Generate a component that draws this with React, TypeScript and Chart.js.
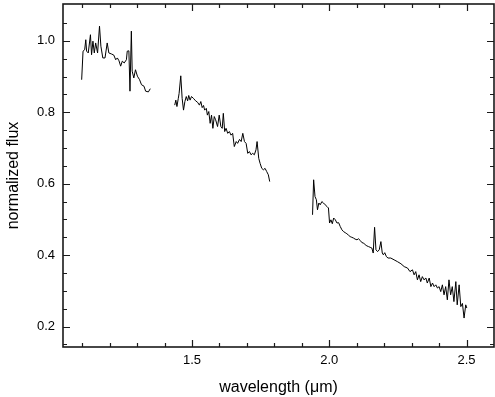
import { useEffect, useRef } from "react";
import { Chart, registerables } from "chart.js";

Chart.register(...registerables);

// J band segment
const jWave = [1.098, 1.103, 1.109, 1.113, 1.116, 1.122, 1.130, 1.134, 1.139, 1.144, 1.149, 1.156, 1.163, 1.168, 1.175, 1.183, 1.191, 1.197, 1.207, 1.215, 1.222, 1.228, 1.234, 1.240, 1.246, 1.253, 1.261, 1.264, 1.270, 1.274, 1.279, 1.282, 1.288, 1.294, 1.301, 1.309, 1.316, 1.325, 1.331, 1.341, 1.348];
const jFlux = [0.891, 0.971, 0.975, 1.003, 0.971, 0.966, 1.017, 0.961, 0.999, 0.966, 0.994, 0.966, 1.041, 0.985, 0.952, 0.952, 0.994, 0.966, 0.963, 0.960, 0.947, 0.952, 0.944, 0.929, 0.943, 0.938, 0.947, 0.971, 0.972, 0.859, 1.027, 0.915, 0.896, 0.919, 0.901, 0.891, 0.877, 0.873, 0.859, 0.857, 0.866];

// H band segment
const hWave = [1.437, 1.441, 1.445, 1.450, 1.453, 1.459, 1.464, 1.469, 1.474, 1.479, 1.484, 1.488, 1.493, 1.498, 1.505, 1.513, 1.520, 1.527, 1.532, 1.537, 1.542, 1.546, 1.552, 1.556, 1.561, 1.566, 1.571, 1.576, 1.581, 1.586, 1.593, 1.599, 1.605, 1.610, 1.614, 1.619, 1.624, 1.630, 1.636, 1.642, 1.648, 1.654, 1.661, 1.666, 1.673, 1.679, 1.685, 1.691, 1.697, 1.703, 1.709, 1.715, 1.721, 1.727, 1.733, 1.737, 1.743, 1.748, 1.754, 1.760, 1.766, 1.772, 1.778, 1.783];
const hFlux = [0.820, 0.834, 0.816, 0.839, 0.853, 0.902, 0.839, 0.806, 0.830, 0.844, 0.832, 0.847, 0.834, 0.844, 0.839, 0.832, 0.828, 0.820, 0.830, 0.813, 0.819, 0.806, 0.811, 0.792, 0.802, 0.769, 0.792, 0.755, 0.788, 0.779, 0.760, 0.792, 0.760, 0.755, 0.797, 0.746, 0.755, 0.741, 0.746, 0.736, 0.741, 0.704, 0.718, 0.713, 0.724, 0.718, 0.741, 0.718, 0.713, 0.685, 0.690, 0.681, 0.685, 0.681, 0.695, 0.718, 0.671, 0.657, 0.643, 0.639, 0.643, 0.634, 0.625, 0.606];

// K band segment
const kWave = [1.939, 1.943, 1.948, 1.953, 1.957, 1.962, 1.967, 1.973, 1.979, 1.985, 1.992, 1.997, 2.001, 2.006, 2.011, 2.016, 2.022, 2.028, 2.034, 2.040, 2.046, 2.052, 2.058, 2.064, 2.070, 2.076, 2.082, 2.088, 2.094, 2.101, 2.106, 2.113, 2.119, 2.125, 2.131, 2.137, 2.143, 2.149, 2.155, 2.160, 2.165, 2.170, 2.176, 2.182, 2.188, 2.193, 2.197, 2.202, 2.208, 2.214, 2.224, 2.236, 2.248, 2.261, 2.273, 2.285, 2.294, 2.303, 2.309, 2.315, 2.321, 2.327, 2.333, 2.339, 2.345, 2.352, 2.357, 2.364, 2.370, 2.376, 2.382, 2.388, 2.394, 2.400, 2.406, 2.412, 2.418, 2.424, 2.430, 2.436, 2.442, 2.448, 2.454, 2.461, 2.466, 2.473, 2.479, 2.485, 2.491, 2.497, 2.501];
const kFlux = [0.513, 0.611, 0.564, 0.555, 0.527, 0.546, 0.541, 0.550, 0.546, 0.541, 0.536, 0.532, 0.490, 0.499, 0.488, 0.504, 0.499, 0.490, 0.491, 0.480, 0.471, 0.466, 0.463, 0.460, 0.456, 0.452, 0.450, 0.448, 0.445, 0.443, 0.446, 0.441, 0.435, 0.434, 0.429, 0.426, 0.424, 0.422, 0.420, 0.406, 0.478, 0.415, 0.410, 0.415, 0.438, 0.406, 0.401, 0.407, 0.396, 0.392, 0.392, 0.387, 0.382, 0.376, 0.368, 0.364, 0.354, 0.359, 0.345, 0.354, 0.331, 0.345, 0.326, 0.340, 0.331, 0.336, 0.322, 0.336, 0.312, 0.322, 0.312, 0.317, 0.308, 0.312, 0.298, 0.317, 0.289, 0.312, 0.275, 0.331, 0.289, 0.312, 0.270, 0.326, 0.261, 0.317, 0.256, 0.265, 0.224, 0.261, 0.252];

// Axis ticks
const xMajorTicks = [1.5, 2.0, 2.5];
const xMinorTicks = [1.1, 1.2, 1.3, 1.4, 1.6, 1.7, 1.8, 1.9, 2.1, 2.2, 2.3, 2.4];
const yMajorTicks = [0.2, 0.4, 0.6, 0.8, 1.0];
const yMinorTicks = [0.15, 0.25, 0.3, 0.35, 0.45, 0.5, 0.55, 0.65, 0.7, 0.75, 0.85, 0.9, 0.95, 1.05];

const X_MIN = 1.03;
const X_MAX = 2.6;
const Y_MIN = 0.143;
const Y_MAX = 1.103;

const FONT = "'Liberation Sans', Arial, Helvetica, sans-serif";

const toPoints = (xs: number[], ys: number[]) => xs.map((x, i) => ({ x, y: ys[i] }));

const framePlugin = {
  id: "frameTicks",
  afterDraw(chart: any) {
    const { ctx, chartArea: a, scales } = chart;
    const xs = scales.x;
    const ys = scales.y;
    ctx.save();
    ctx.strokeStyle = "#1a1a1a";
    ctx.lineWidth = 1.2;
    const drawX = (vals: number[], len: number) => {
      vals.forEach((v) => {
        const px = Math.round(xs.getPixelForValue(v)) + 0.5;
        ctx.beginPath();
        ctx.moveTo(px, a.bottom);
        ctx.lineTo(px, a.bottom - len);
        ctx.moveTo(px, a.top);
        ctx.lineTo(px, a.top + len);
        ctx.stroke();
      });
    };
    const drawY = (vals: number[], len: number) => {
      vals.forEach((v) => {
        const py = Math.round(ys.getPixelForValue(v)) + 0.5;
        ctx.beginPath();
        ctx.moveTo(a.left, py);
        ctx.lineTo(a.left + len, py);
        ctx.moveTo(a.right, py);
        ctx.lineTo(a.right - len, py);
        ctx.stroke();
      });
    };
    drawX(xMajorTicks, 7);
    drawX(xMinorTicks, 4);
    drawY(yMajorTicks, 7);
    drawY(yMinorTicks, 4);
    ctx.lineWidth = 1.6;
    ctx.strokeRect(a.left, a.top, a.right - a.left, a.bottom - a.top);
    ctx.restore();
  },
};

export default function App() {
  const ref = useRef<HTMLCanvasElement | null>(null);

  useEffect(() => {
    if (!ref.current) return;
    const lineStyle = {
      borderColor: "#000",
      borderWidth: 1,
      pointRadius: 0,
      fill: false,
      tension: 0,
    };
    const chart = new Chart(ref.current, {
      type: "line",
      data: {
        datasets: [
          { label: "J", data: toPoints(jWave, jFlux), ...lineStyle },
          { label: "H", data: toPoints(hWave, hFlux), ...lineStyle },
          { label: "K", data: toPoints(kWave, kFlux), ...lineStyle },
        ],
      },
      options: {
        responsive: false,
        animation: false,
        layout: { padding: { left: 0, top: 4, right: 1, bottom: 0 } },
        plugins: { legend: { display: false }, tooltip: { enabled: false } },
        scales: {
          x: {
            type: "linear",
            min: X_MIN,
            max: X_MAX,
            grid: { display: false, drawTicks: false },
            border: { display: false },
            afterBuildTicks: (s: any) => {
              s.ticks = xMajorTicks.map((v) => ({ value: v }));
            },
            afterFit: (s: any) => {
              s.height = 50;
              s.paddingLeft = 0;
              s.paddingRight = 0;
            },
            ticks: {
              color: "#000",
              padding: 6,
              font: { family: FONT, size: 13 },
              maxRotation: 0,
              callback: (v: any) => Number(v).toFixed(1),
            },
            title: {
              display: true,
              text: "wavelength (\u03bcm)",
              color: "#000",
              font: { family: FONT, size: 16 },
              padding: { top: 0, bottom: 0 },
            },
          },
          y: {
            type: "linear",
            min: Y_MIN,
            max: Y_MAX,
            grid: { display: false, drawTicks: false },
            border: { display: false },
            afterBuildTicks: (s: any) => {
              s.ticks = yMajorTicks.map((v) => ({ value: v }));
            },
            afterFit: (s: any) => {
              s.width = 63;
              s.paddingTop = 0;
              s.paddingBottom = 0;
            },
            ticks: {
              color: "#000",
              padding: 8,
              font: { family: FONT, size: 13 },
              callback: (v: any) => Number(v).toFixed(1),
            },
            title: {
              display: true,
              text: "normalized flux",
              color: "#000",
              font: { family: FONT, size: 16 },
              padding: { top: 4, bottom: 0 },
            },
          },
        },
      },
      plugins: [framePlugin],
    });
    return () => chart.destroy();
  }, []);

  return (
    <div style={{ position: "fixed", left: 0, top: 0, width: 495, height: 397, background: "#fff" }}>
      <canvas ref={ref} width={495} height={397} style={{ display: "block" }} />
    </div>
  );
}
